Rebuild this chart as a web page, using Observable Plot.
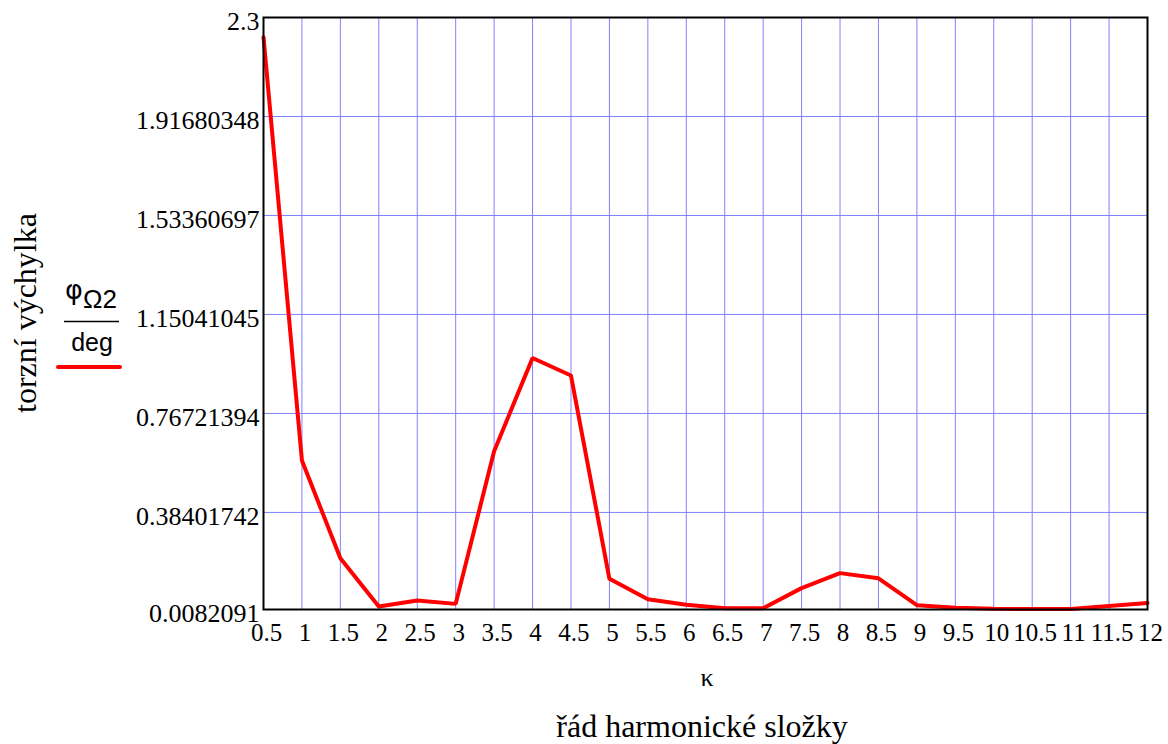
<!DOCTYPE html>
<html>
<head>
<meta charset="utf-8">
<script src="https://cdn.jsdelivr.net/npm/d3@7"></script>
<script src="https://cdn.jsdelivr.net/npm/@observablehq/plot@0.6"></script>
<style>
  html, body { margin: 0; padding: 0; background: #fff; }
  #chart svg { display: block; }
</style>
</head>
<body>
<div id="chart"></div>
<script>
// Harmonic order κ
const kappa = [0.5, 1, 1.5, 2, 2.5, 3, 3.5, 4, 4.5, 5, 5.5, 6, 6.5, 7, 7.5, 8, 8.5, 9, 9.5, 10, 10.5, 11, 11.5, 12];
// Torsional amplitude φΩ2 / deg
const phiOmega2 = [2.224, 0.585, 0.207, 0.020, 0.043, 0.030, 0.621, 0.982, 0.914, 0.127, 0.048, 0.027, 0.013, 0.013, 0.091, 0.149, 0.129, 0.025, 0.015, 0.011, 0.010, 0.010, 0.022, 0.033];
// Y tick values and labels
const yTicks = [0.0082091, 0.38401742, 0.76721394, 1.15041045, 1.53360697, 1.91680348, 2.3];
const yTickLabels = ["0.0082091", "0.38401742", "0.76721394", "1.15041045", "1.53360697", "1.91680348", "2.3"];
// X tick values and labels
const xTicks = kappa;
const xTickLabels = ["0.5","1","1.5","2","2.5","3","3.5","4","4.5","5","5.5","6","6.5","7","7.5","8","8.5","9","9.5","10","10.5","11","11.5","12"];

const yTitle = "torzní výchylka";
const xSymbol = "κ";
const xTitle = "řád harmonické složky";

const data = kappa.map((k, i) => ({k, v: phiOmega2[i]}));
const serif = "'Liberation Serif', 'Times New Roman', serif";
const sans = "'Liberation Sans', Arial, sans-serif";
const gridColor = "#8080ff";

const chart = Plot.plot({
  width: 1168,
  height: 744,
  marginLeft: 263,
  marginRight: 21,
  marginTop: 17,
  marginBottom: 135,
  style: {background: "#fff", color: "#000"},
  x: {domain: [0.5, 12]},
  y: {domain: [0.0082091, 2.3]},
  marks: [
    Plot.gridX(xTicks, {stroke: gridColor, strokeOpacity: 1, strokeWidth: 1}),
    Plot.gridY(yTicks, {stroke: gridColor, strokeOpacity: 1, strokeWidth: 1}),
    Plot.line(data, {x: "k", y: "v", stroke: "#ff0000", strokeWidth: 4, strokeLinejoin: "miter"}),
    Plot.frame({stroke: "#000", strokeWidth: 2}),
    Plot.axisX(xTicks, {
      tickSize: 0, tickPadding: 14, fontSize: 25, fontFamily: serif, dx: 3,
      tickFormat: d => xTickLabels[xTicks.indexOf(d)], label: null, fill: "#000"
    }),
    Plot.axisY(yTicks, {
      tickSize: 0, tickPadding: 4, fontSize: 26, fontFamily: serif, dy: 4,
      tickFormat: d => yTickLabels[yTicks.indexOf(d)], label: null, fill: "#000"
    })
  ]
});

document.getElementById("chart").appendChild(chart);

// Axis titles and legend
const svg = d3.select(chart);
svg.append("text")
  .attr("transform", "translate(36,313) rotate(-90)")
  .attr("text-anchor", "middle")
  .attr("font-family", serif).attr("font-size", 32).attr("fill", "#000")
  .text(yTitle);

svg.append("text")
  .attr("x", 707).attr("y", 686)
  .attr("text-anchor", "middle")
  .attr("font-family", serif).attr("font-size", 26).attr("fill", "#000")
  .text(xSymbol);

svg.append("text")
  .attr("x", 702).attr("y", 737)
  .attr("text-anchor", "middle")
  .attr("font-family", serif).attr("font-size", 32).attr("fill", "#000")
  .text(xTitle);

// legend: fraction φΩ2 / deg with red line sample
const leg = svg.append("g").attr("text-anchor", "start");
const num = leg.append("text").attr("x", 65).attr("y", 299)
  .attr("text-anchor", "start")
  .attr("font-family", "'DejaVu Sans', sans-serif").attr("font-size", 27).attr("fill", "#000");
num.append("tspan").text("φ");
num.append("tspan").attr("x", 83).attr("y", 308)
  .attr("font-family", sans).attr("font-size", 26).text("Ω2");
leg.append("line").attr("x1", 64).attr("x2", 119).attr("y1", 321.5).attr("y2", 321.5)
  .attr("stroke", "#000").attr("stroke-width", 1.5);
leg.append("text").attr("x", 92).attr("y", 351).attr("text-anchor", "middle")
  .attr("font-family", sans).attr("font-size", 25).attr("fill", "#000").text("deg");
leg.append("line").attr("x1", 58).attr("x2", 120).attr("y1", 367).attr("y2", 367)
  .attr("stroke", "#ff0000").attr("stroke-width", 4).attr("stroke-linecap", "round");
</script>
</body>
</html>
